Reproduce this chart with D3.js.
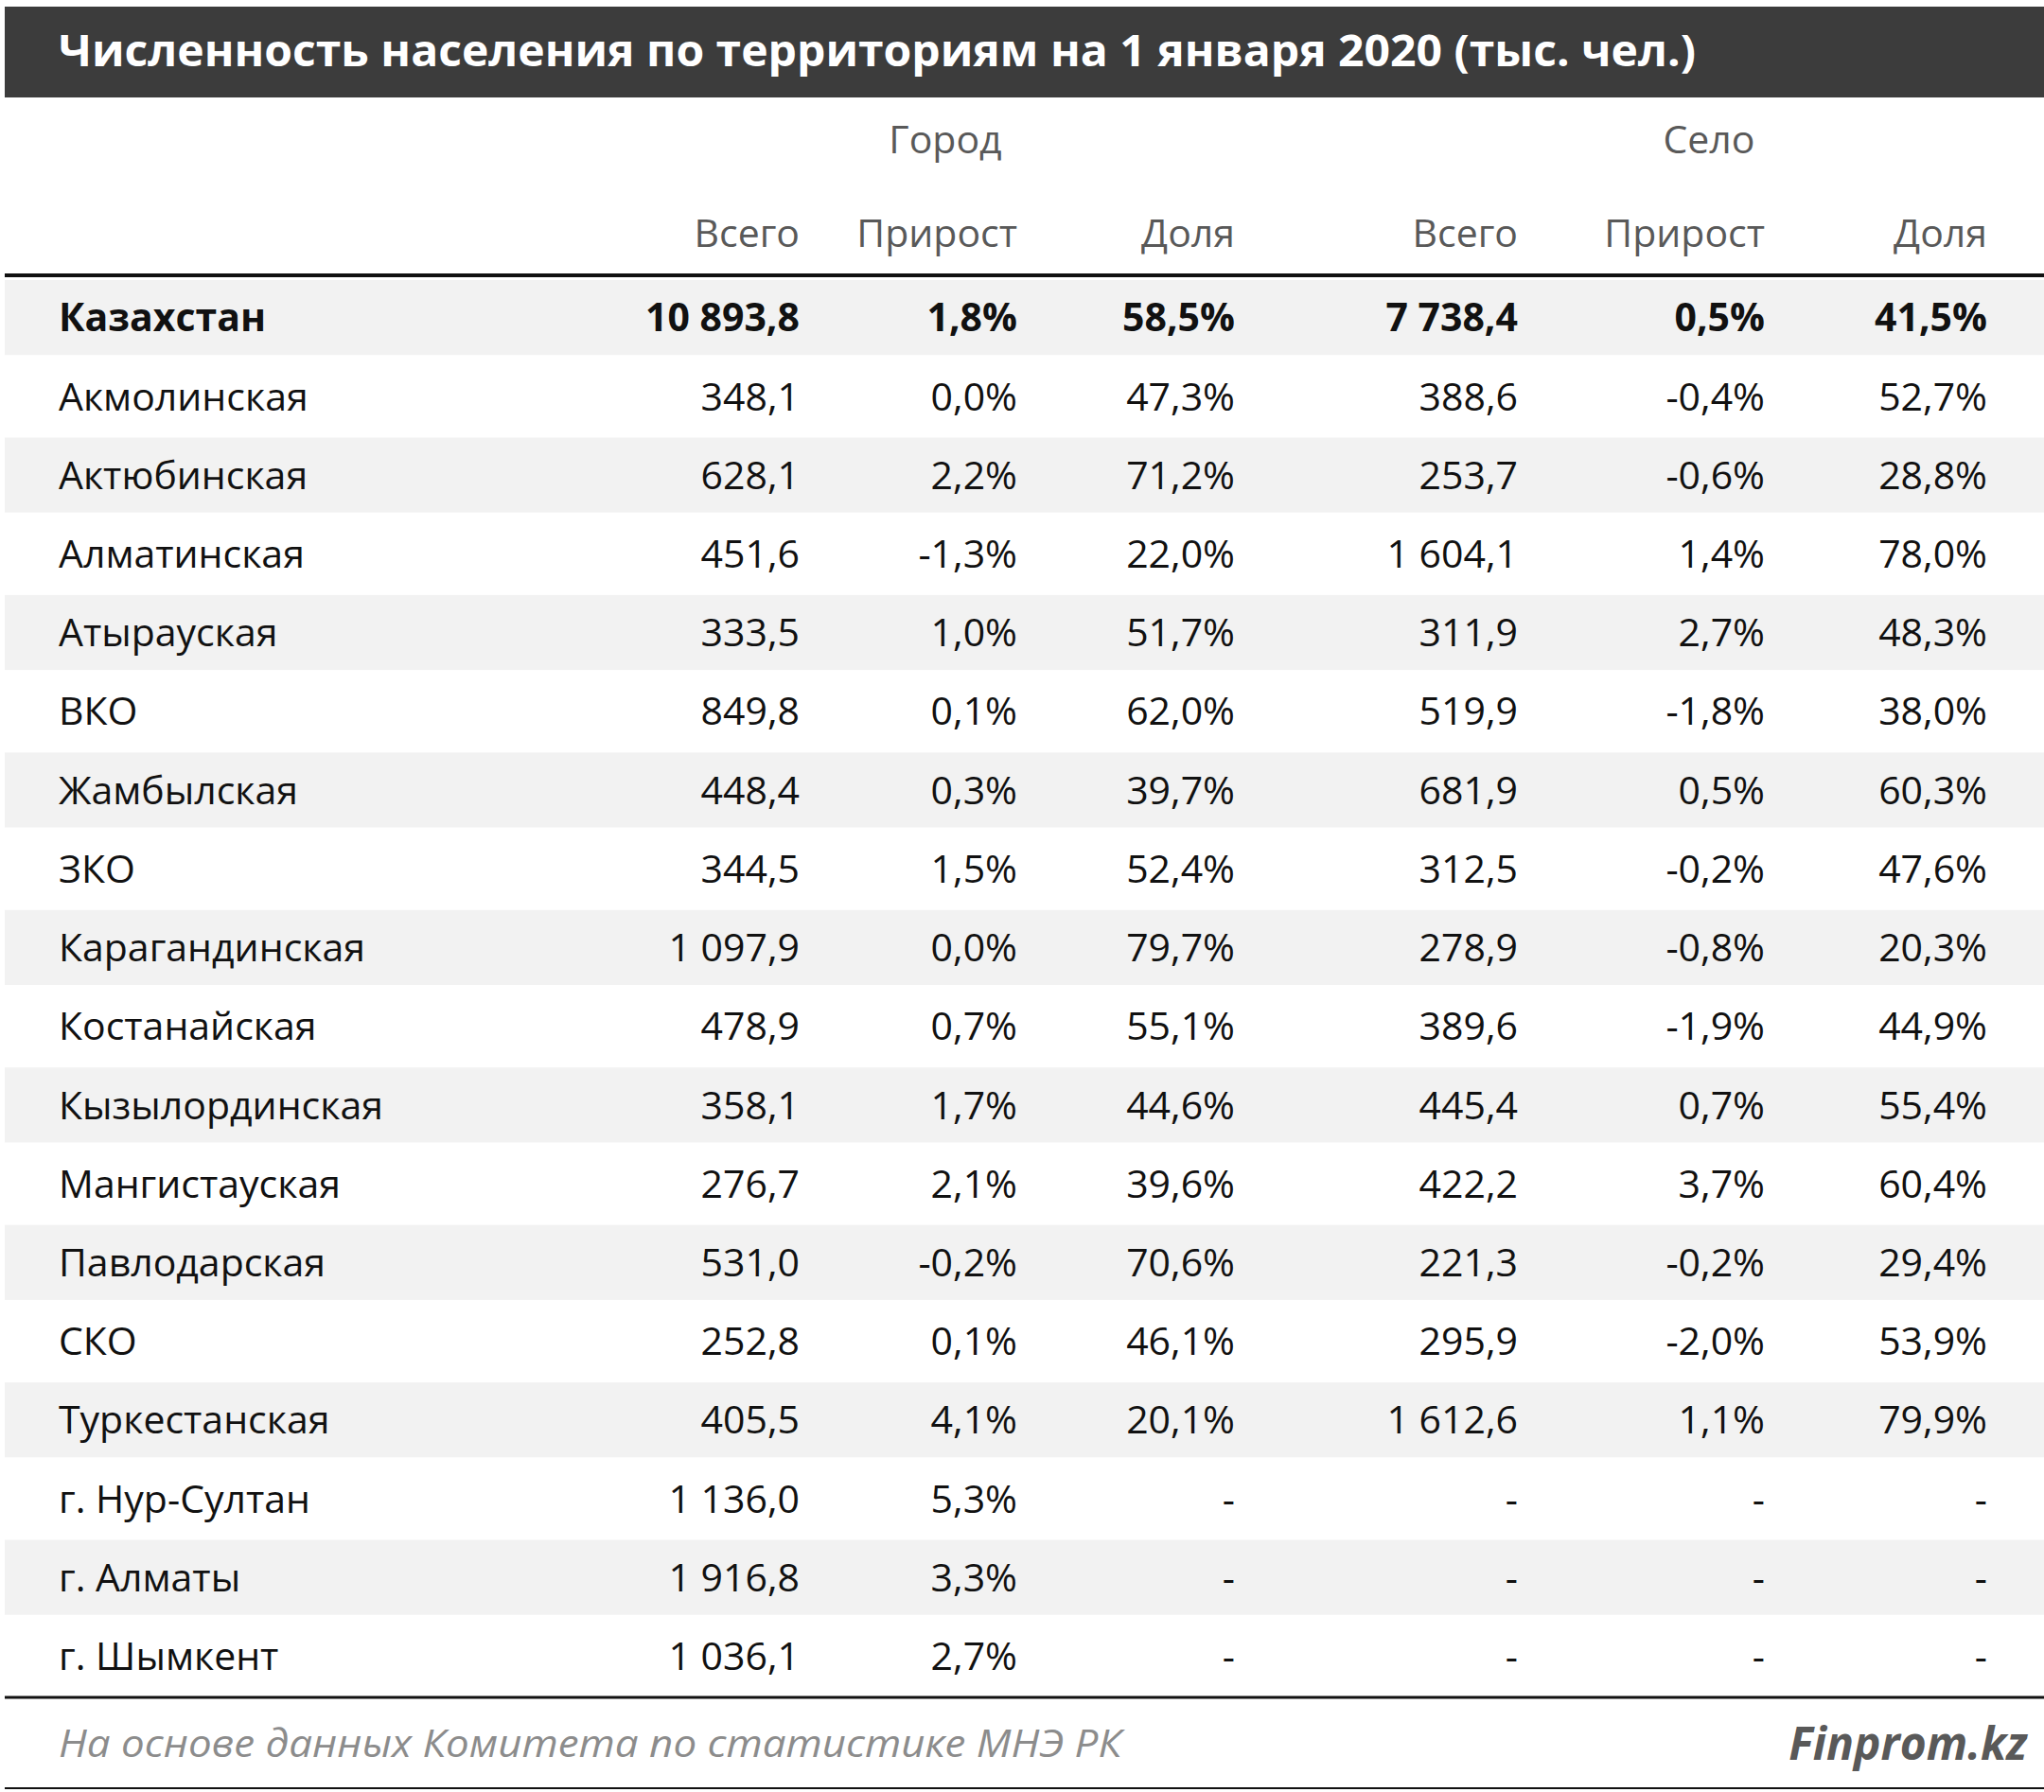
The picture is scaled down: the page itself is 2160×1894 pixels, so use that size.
<!DOCTYPE html>
<html lang="ru">
<head>
<meta charset="UTF-8">
<script src="https://d3js.org/d3.v7.min.js"></script>
<style>
  body { margin: 0; background: #fff; }
  svg { display: block; font-family: "Open Sans", "DejaVu Sans", sans-serif; }
</style>
</head>
<body>
<div id="container"></div>
<script>
  // Data
  const regions = ["Казахстан", "Акмолинская", "Актюбинская", "Алматинская", "Атырауская", "ВКО",
    "Жамбылская", "ЗКО", "Карагандинская", "Костанайская", "Кызылординская", "Мангистауская",
    "Павлодарская", "СКО", "Туркестанская", "г. Нур-Султан", "г. Алматы", "г. Шымкент"];
  const cityTotal = ["10 893,8", "348,1", "628,1", "451,6", "333,5", "849,8", "448,4", "344,5", "1 097,9",
    "478,9", "358,1", "276,7", "531,0", "252,8", "405,5", "1 136,0", "1 916,8", "1 036,1"];
  const cityGrowth = ["1,8%", "0,0%", "2,2%", "-1,3%", "1,0%", "0,1%", "0,3%", "1,5%", "0,0%",
    "0,7%", "1,7%", "2,1%", "-0,2%", "0,1%", "4,1%", "5,3%", "3,3%", "2,7%"];
  const cityShare = ["58,5%", "47,3%", "71,2%", "22,0%", "51,7%", "62,0%", "39,7%", "52,4%", "79,7%",
    "55,1%", "44,6%", "39,6%", "70,6%", "46,1%", "20,1%", "-", "-", "-"];
  const ruralTotal = ["7 738,4", "388,6", "253,7", "1 604,1", "311,9", "519,9", "681,9", "312,5", "278,9",
    "389,6", "445,4", "422,2", "221,3", "295,9", "1 612,6", "-", "-", "-"];
  const ruralGrowth = ["0,5%", "-0,4%", "-0,6%", "1,4%", "2,7%", "-1,8%", "0,5%", "-0,2%", "-0,8%",
    "-1,9%", "0,7%", "3,7%", "-0,2%", "-2,0%", "1,1%", "-", "-", "-"];
  const ruralShare = ["41,5%", "52,7%", "28,8%", "78,0%", "48,3%", "38,0%", "60,3%", "47,6%", "20,3%",
    "44,9%", "55,4%", "60,4%", "29,4%", "53,9%", "79,9%", "-", "-", "-"];
  const columns = ["Всего", "Прирост", "Доля", "Всего", "Прирост", "Доля"];
  const groups = ["Город", "Село"];

  const title = "Численность населения по территориям на 1 января 2020 (тыс. чел.)";
  const source = "На основе данных Комитета по статистике МНЭ РК";
  const brand = "Finprom.kz";

  const width = 2160, height = 1894;
  const colRight = [845, 1075, 1305, 1604, 1865, 2100];
  const groupCenter = [999, 1806];
  const fontSize = 41;

  const svg = d3.select("#container").append("svg")
    .attr("width", width).attr("height", height);

  // Title bar
  svg.append("rect").attr("x", 5).attr("y", 7).attr("width", width - 5).attr("height", 96)
    .attr("fill", "#3c3c3c");
  svg.append("text").attr("x", 62).attr("y", 70)
    .attr("fill", "#fff").attr("font-size", 46).attr("font-weight", "bold")
    .attr("textLength", 1730).attr("lengthAdjust", "spacingAndGlyphs")
    .text(title);

  // Group headers
  svg.selectAll(".group").data(groups).join("text")
    .attr("x", (d, i) => groupCenter[i]).attr("y", 162)
    .attr("text-anchor", "middle").attr("fill", "#595959").attr("font-size", fontSize)
    .text(d => d);

  svg.selectAll(".col").data(columns).join("text")
    .attr("x", (d, i) => colRight[i]).attr("y", 261)
    .attr("text-anchor", "end").attr("fill", "#595959").attr("font-size", fontSize)
    .text(d => d);

  // Rows
  const y = d3.scaleBand().domain(regions).range([294, 1792]).padding(0);
  const rows = svg.selectAll(".row").data(regions).join("g")
    .attr("transform", d => `translate(0,${y(d)})`);

  rows.append("rect").attr("x", 5).attr("width", width - 5).attr("height", y.bandwidth() - 4)
    .attr("y", 2)
    .attr("fill", (d, i) => i % 2 === 0 ? "#f2f2f2" : "#fff");

  const cols = [cityTotal, cityGrowth, cityShare, ruralTotal, ruralGrowth, ruralShare];
  rows.each(function (d, i) {
    const g = d3.select(this);
    const bold = i === 0 ? "bold" : "normal";
    const ty = y.bandwidth() / 2 + fontSize * 0.36;
    g.append("text").attr("x", 62).attr("y", ty).attr("font-size", fontSize)
      .attr("font-weight", bold).attr("fill", "#111").text(d);
    cols.forEach((c, j) => {
      g.append("text").attr("x", colRight[j]).attr("y", ty).attr("font-size", fontSize)
        .attr("text-anchor", "end").attr("font-weight", bold).attr("fill", "#111").text(c[i]);
    });
  });

  // Lines
  svg.append("line").attr("x1", 5).attr("x2", width).attr("y1", 291).attr("y2", 291)
    .attr("stroke", "#111").attr("stroke-width", 4);
  svg.append("line").attr("x1", 5).attr("x2", width).attr("y1", 1794).attr("y2", 1794)
    .attr("stroke", "#111").attr("stroke-width", 3);
  svg.append("line").attr("x1", 5).attr("x2", width).attr("y1", 1890).attr("y2", 1890)
    .attr("stroke", "#111").attr("stroke-width", 2);

  // Footer
  svg.append("text").attr("x", 62).attr("y", 1857).attr("font-size", 41)
    .attr("font-style", "italic").attr("fill", "#8c8c8c")
    .attr("textLength", 1123).attr("lengthAdjust", "spacingAndGlyphs").text(source);
  svg.append("text").attr("x", 2142).attr("y", 1860).attr("font-size", 48)
    .attr("font-style", "italic").attr("font-weight", "bold").attr("text-anchor", "end")
    .attr("fill", "#595959").text(brand);
</script>
</body>
</html>
